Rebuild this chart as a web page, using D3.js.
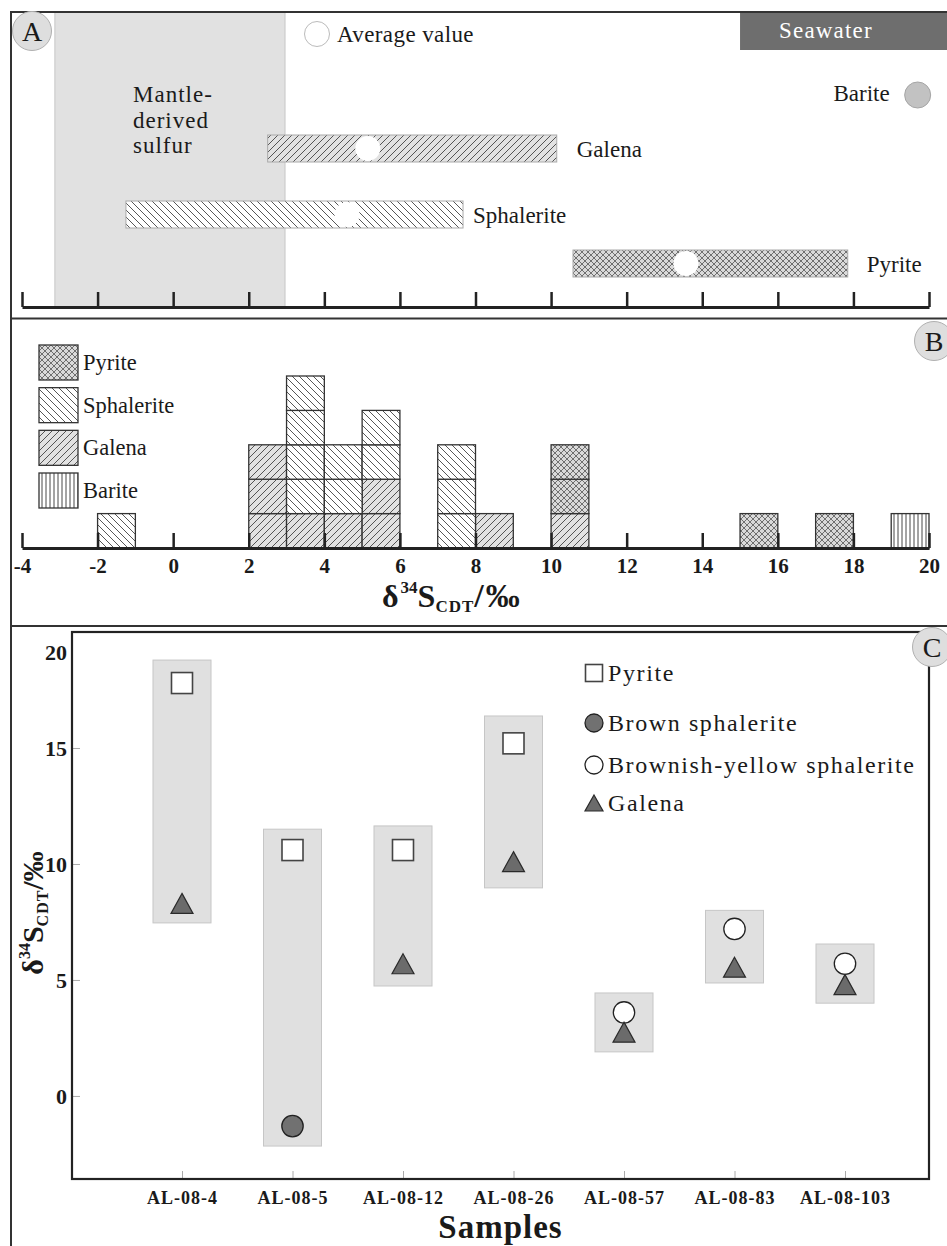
<!DOCTYPE html>
<html><head><meta charset="utf-8">
<script src="https://cdn.jsdelivr.net/npm/d3@7"></script>
<style>
body{margin:0;background:#fff}
svg{display:block}
text{font-family:"Liberation Serif","Times New Roman",serif;fill:#1a1a1a}
</style></head><body>
<svg id="chart" width="947" height="1246"></svg>
<script>
// ================= DATA =================
// Panel A: δ34S ranges and average values (‰)
const rangeMinerals = ["Galena", "Sphalerite", "Pyrite"];
const rangeMin = [2.5, -1.25, 10.58];
const rangeMax = [10.15, 7.67, 17.85];
const rangeAvg = [5.15, 4.6, 13.57];
const bariteValue = 19.7;
const mantleRange = [-3.13, 2.96];
const seawaterRange = [15, 21.5];
const axisTicks = [-4, -2, 0, 2, 4, 6, 8, 10, 12, 14, 16, 18, 20];

// Panel B: histogram (bin start, width 1‰), counts per mineral
const binStarts = [-2, 2, 3, 4, 5, 7, 8, 10, 15, 17, 19];
const binWidth = 1;
const histMinerals = ["Galena", "Sphalerite", "Pyrite", "Barite"];
const galenaCounts     = [0, 3, 1, 1, 2, 0, 1, 1, 0, 0, 0];
const sphaleriteCounts = [1, 0, 4, 2, 2, 3, 0, 0, 0, 0, 0];
const pyriteCounts     = [0, 0, 0, 0, 0, 0, 0, 2, 1, 1, 0];
const bariteCounts     = [0, 0, 0, 0, 0, 0, 0, 0, 0, 0, 1];
const legendB = ["Pyrite", "Sphalerite", "Galena", "Barite"];

// Panel C: per-sample values
const samples = ["AL-08-4", "AL-08-5", "AL-08-12", "AL-08-26", "AL-08-57", "AL-08-83", "AL-08-103"];
const boxLow  = [7.46, -2.16, 4.74, 8.97, 1.9, 4.87, 4.0];
const boxHigh = [18.79, 11.5, 11.64, 16.38, 4.44, 8.0, 6.55];
const pyriteC     = [17.8, 10.6, 10.6, 15.2, null, null, null];
const brownSph    = [null, -1.3, null, null, null, null, null];
const byellowSph  = [null, null, null, null, 3.6, 7.2, 5.7];
const galenaC     = [8.3, null, 5.7, 10.1, 2.75, 5.55, 4.8];
const cTicks = [0, 5, 10, 15, 20];
const legendC = ["Pyrite", "Brown sphalerite", "Brownish-yellow sphalerite", "Galena"];

// ================= DRAW =================
const svg = d3.select("#chart");
const x = d3.scaleLinear().domain([-4, 20]).range([22, 929]);
const fmt = d => String(d);

// patterns
const defs = svg.append("defs");
function pat(id, size, bg, d, stroke, sw) {
  const p = defs.append("pattern").attr("id", id).attr("patternUnits", "userSpaceOnUse")
    .attr("width", size).attr("height", size);
  p.append("rect").attr("width", size).attr("height", size).attr("fill", bg);
  p.append("path").attr("d", d).attr("stroke", stroke).attr("stroke-width", sw).attr("fill", "none");
}
pat("galena", 7, "#e2e2e2", "M0,7L7,0M-1,1L1,-1M6,8L8,6", "#444", 0.9);
pat("sphalerite", 7, "#ffffff", "M0,0L7,7M-1,6L1,8M6,-1L8,1", "#444", 0.9);
pat("pyrite", 6, "#dadada", "M0,0L6,6M-1,5L1,7M5,-1L7,1M0,6L6,0M-1,1L1,-1M5,7L7,5", "#555", 0.8);
pat("barite", 4, "#ffffff", "M2,0L2,4", "#333", 0.9);
const patId = m => "url(#" + m.toLowerCase() + ")";

// ---------- Panel A ----------
const gA = svg.append("g");
const axisAY = 307;
gA.append("rect")
  .attr("x", x(mantleRange[0])).attr("y", 12)
  .attr("width", x(mantleRange[1]) - x(mantleRange[0])).attr("height", axisAY - 12)
  .attr("fill", "#e1e1e1").attr("stroke", "#c6c6c6");
gA.append("text").attr("x", 133).attr("y", 102).attr("font-size", 23).attr("letter-spacing", 1)
  .selectAll("tspan").data(["Mantle-", "derived", "sulfur"]).join("tspan")
  .attr("x", 133).attr("dy", (d, i) => i ? 25.5 : 0).text(d => d);

gA.append("rect").attr("x", x(seawaterRange[0])).attr("y", 12)
  .attr("width", x(seawaterRange[1]) - x(seawaterRange[0])).attr("height", 38)
  .attr("fill", "#6e6e6e");
gA.append("text").attr("x", 779).attr("y", 38).attr("font-size", 23).attr("letter-spacing", 1.2)
  .style("fill", "#fff").text("Seawater");

// average value legend
gA.append("circle").attr("cx", 317).attr("cy", 34).attr("r", 12.5).attr("fill", "#fff").attr("stroke", "#bbb");
gA.append("text").attr("x", 337).attr("y", 42).attr("font-size", 23).attr("letter-spacing", 0.4).text("Average value");

const rowY = d3.scaleOrdinal().domain(["Barite", "Galena", "Sphalerite", "Pyrite"]).range([95, 148.5, 214.5, 263.5]);
const labelGap = {Galena: 20, Sphalerite: 10, Pyrite: 19};
rangeMinerals.forEach((m, i) => {
  gA.append("rect").attr("x", x(rangeMin[i])).attr("y", rowY(m) - 13.5)
    .attr("width", x(rangeMax[i]) - x(rangeMin[i])).attr("height", 27)
    .attr("fill", patId(m)).attr("stroke", "#aaa");
  gA.append("circle").attr("cx", x(rangeAvg[i])).attr("cy", rowY(m)).attr("r", 12.5).attr("fill", "#fff");
  gA.append("text").attr("x", x(rangeMax[i]) + labelGap[m]).attr("y", rowY(m) + 8)
    .attr("font-size", 23).text(m);
});
gA.append("circle").attr("cx", x(bariteValue)).attr("cy", rowY("Barite")).attr("r", 13)
  .attr("fill", "#c2c2c2").attr("stroke", "#a5a5a5");
gA.append("text").attr("x", x(bariteValue) - 28).attr("y", rowY("Barite") + 6)
  .attr("text-anchor", "end").attr("font-size", 23).text("Barite");

const axA = d3.axisBottom(x).tickValues(axisTicks).tickSize(-15).tickSizeOuter(0).tickFormat("");
gA.append("g").attr("transform", `translate(0,${axisAY})`).call(axA)
  .call(g => {
    g.select(".domain").attr("stroke", "#222").attr("stroke-width", 3);
    g.selectAll(".tick line").attr("stroke", "#222").attr("stroke-width", 2.5);
  });

// ---------- Panel B ----------
const gB = svg.append("g");
const axisBY = 548;
const yB = d3.scaleLinear().domain([0, 5]).range([axisBY, axisBY - 5 * 34.4]);
const countsBy = {Galena: galenaCounts, Sphalerite: sphaleriteCounts, Pyrite: pyriteCounts, Barite: bariteCounts};
const rows = binStarts.map((b, j) => {
  const r = {bin: b};
  histMinerals.forEach(m => r[m] = countsBy[m][j]);
  return r;
});
const stacked = d3.stack().keys(histMinerals)(rows);
stacked.forEach(series => {
  series.forEach(d => {
    d3.range(d[0], d[1]).forEach(u => {
      gB.append("rect")
        .attr("x", x(d.data.bin)).attr("y", yB(u + 1))
        .attr("width", x(d.data.bin + binWidth) - x(d.data.bin)).attr("height", yB(u) - yB(u + 1))
        .attr("fill", patId(series.key)).attr("stroke", "#333").attr("stroke-width", 1.3);
    });
  });
});
const axB = d3.axisBottom(x).tickValues(axisTicks).tickSize(-15).tickSizeOuter(0).tickPadding(10).tickFormat(fmt);
gB.append("g").attr("transform", `translate(0,${axisBY})`).call(axB)
  .call(g => {
    g.select(".domain").attr("stroke", "#222").attr("stroke-width", 3);
    g.selectAll(".tick line").attr("stroke", "#222").attr("stroke-width", 2.5);
    g.selectAll(".tick text").attr("font-size", 21).attr("font-weight", "bold")
      .attr("font-family", "Liberation Serif, serif").style("fill", "#1a1a1a");
  });
// axis title
const tB = gB.append("text").attr("x", 382).attr("y", 607).attr("font-weight", "bold").attr("font-size", 32);
tB.append("tspan").text("δ");
tB.append("tspan").attr("font-size", 17).attr("dy", -14).attr("dx", 2).text("34");
tB.append("tspan").attr("font-size", 32).attr("dy", 14).text("S");
tB.append("tspan").attr("font-size", 17).attr("dy", 5).attr("letter-spacing", 1).text("CDT");
tB.append("tspan").attr("font-size", 34).attr("dy", -5).attr("letter-spacing", 2).text("/‰");

// legend B
const legY = d3.scalePoint().domain(legendB).range([345, 473]);
legendB.forEach(m => {
  gB.append("rect").attr("x", 39).attr("y", legY(m)).attr("width", 39).attr("height", 35)
    .attr("fill", patId(m)).attr("stroke", "#333").attr("stroke-width", 1.3);
  gB.append("text").attr("x", 83).attr("y", legY(m) + 25).attr("font-size", 22.5).text(m);
});

// ---------- Panel C ----------
const gC = svg.append("g");
const cL = 72, cR = 929, cT = 632, cB = 1179;
const yC = d3.scaleLinear().domain([-3.58, 20]).range([cB, cT]);
const xC = d3.scalePoint().domain(samples).range([182, 845]);

samples.forEach((s, i) => {
  gC.append("rect").attr("x", xC(s) - 29).attr("y", yC(boxHigh[i]))
    .attr("width", 58).attr("height", yC(boxLow[i]) - yC(boxHigh[i]))
    .attr("fill", "#e0e0e0").attr("stroke", "#c6c6c6");
});

const axCL = d3.axisLeft(yC).tickValues(cTicks).tickSize(-8).tickPadding(5).tickFormat(fmt);
gC.append("g").attr("transform", `translate(${cL},0)`).call(axCL)
  .call(g => {
    g.select(".domain").remove();
    g.selectAll(".tick line").attr("stroke", "#aaa");
    g.selectAll(".tick text").attr("font-size", 22).attr("font-weight", "bold")
      .attr("font-family", "Liberation Serif, serif").style("fill", "#1a1a1a")
      .attr("dy", d => d === 20 ? "1.25em" : "0.35em");
  });
const axCB = d3.axisBottom(xC).tickSize(-8).tickSizeOuter(0).tickPadding(12);
gC.append("g").attr("transform", `translate(0,${cB})`).call(axCB)
  .call(g => {
    g.select(".domain").remove();
    g.selectAll(".tick line").attr("stroke", "#aaa");
    g.selectAll(".tick text").attr("font-size", 18).attr("font-weight", "bold").attr("letter-spacing", 1)
      .attr("font-family", "Liberation Serif, serif").style("fill", "#1a1a1a");
  });
gC.append("rect").attr("x", cL).attr("y", cT).attr("width", cR - cL).attr("height", cB - cT)
  .attr("fill", "none").attr("stroke", "#222").attr("stroke-width", 2.2);

// symbols
function tri(g, cx, cy, w, h) {
  g.append("path").attr("d", `M${cx},${cy - h / 2}L${cx + w / 2},${cy + h / 2}L${cx - w / 2},${cy + h / 2}Z`)
    .attr("fill", "#6b6b6b").attr("stroke", "#2a2a2a").attr("stroke-width", 1.2);
}
function sq(g, cx, cy, s) {
  g.append("rect").attr("x", cx - s / 2).attr("y", cy - s / 2).attr("width", s).attr("height", s)
    .attr("fill", "#fff").attr("stroke", "#444").attr("stroke-width", 1.6);
}
function circ(g, cx, cy, r, fill) {
  g.append("circle").attr("cx", cx).attr("cy", cy).attr("r", r)
    .attr("fill", fill).attr("stroke", "#222").attr("stroke-width", 1.3);
}
samples.forEach((s, i) => {
  if (pyriteC[i] != null) sq(gC, xC(s), yC(pyriteC[i]), 21);
  if (brownSph[i] != null) circ(gC, xC(s), yC(brownSph[i]), 10.7, "#717171");
  if (byellowSph[i] != null) circ(gC, xC(s), yC(byellowSph[i]), 10.7, "#fff");
  if (galenaC[i] != null) tri(gC, xC(s), yC(galenaC[i]), 22, 20);
});

// legend C
const legCY = d3.scaleOrdinal().domain(legendC).range([673, 723, 765, 803]);
const symX = 594;
sq(gC, symX, legCY("Pyrite"), 17);
circ(gC, symX, legCY("Brown sphalerite"), 9, "#717171");
circ(gC, symX, legCY("Brownish-yellow sphalerite"), 9, "#fff");
tri(gC, symX, legCY("Galena"), 18, 16);
legendC.forEach(m => {
  gC.append("text").attr("x", 608).attr("y", legCY(m)).attr("dy", "0.35em")
    .attr("font-size", 24).attr("letter-spacing", 1.6).text(m);
});

// titles
gC.append("text").attr("x", (cL + cR) / 2).attr("y", 1238).attr("text-anchor", "middle")
  .attr("font-size", 33).attr("font-weight", "bold").attr("letter-spacing", 1).text("Samples");
const tC = gC.append("text").attr("transform", "translate(43,913) rotate(-90)")
  .attr("text-anchor", "middle").attr("font-weight", "bold").attr("font-size", 30);
tC.append("tspan").text("δ");
tC.append("tspan").attr("font-size", 16).attr("dy", -13).text("34");
tC.append("tspan").attr("font-size", 30).attr("dy", 13).text("S");
tC.append("tspan").attr("font-size", 16).attr("dy", 5).attr("letter-spacing", 1).text("CDT");
tC.append("tspan").attr("font-size", 30).attr("dy", -5).text("/‰");

// ---------- Frames & panel labels ----------
const gF = svg.append("g");
gF.append("rect").attr("x", 11).attr("y", 12).attr("width", 950).attr("height", 1250)
  .attr("fill", "none").attr("stroke", "#333").attr("stroke-width", 2);
[318.5, 626].forEach(yy => gF.append("line").attr("x1", 11).attr("x2", 947).attr("y1", yy).attr("y2", yy)
  .attr("stroke", "#333").attr("stroke-width", 2));
[["A", 32, 31], ["B", 934, 341], ["C", 932, 647]].forEach(([t, cx, cy]) => {
  gF.append("circle").attr("cx", cx).attr("cy", cy).attr("r", 19.5).attr("fill", "#dedede").attr("stroke", "#b0b0b0");
  gF.append("text").attr("x", cx).attr("y", cy + 10).attr("text-anchor", "middle").attr("font-size", 28).text(t);
});
</script>
</body></html>
